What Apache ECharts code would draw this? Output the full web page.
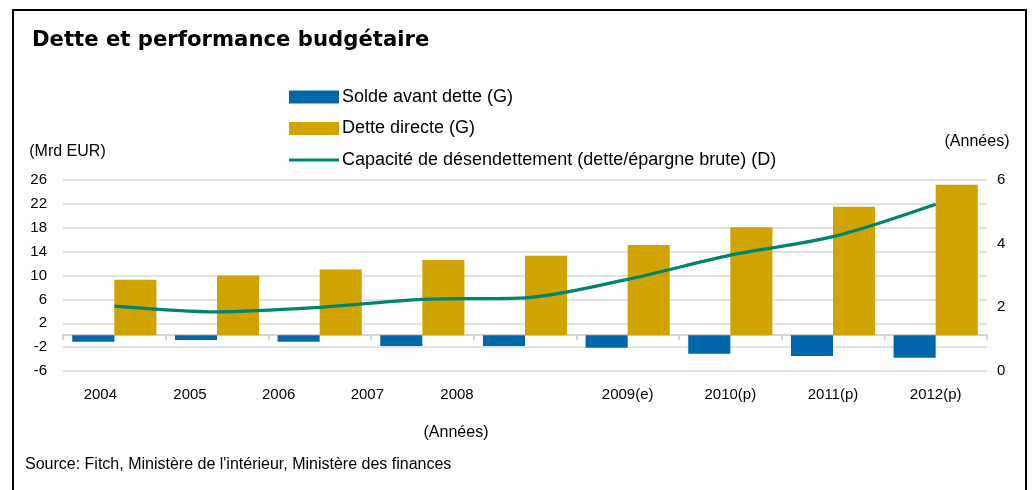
<!DOCTYPE html>
<html>
<head>
<meta charset="utf-8">
<script src="https://cdn.jsdelivr.net/npm/echarts@6/dist/echarts.min.js"></script>
<style>
    html, body { margin: 0; padding: 0; background: #fff; }
    #chart { width: 1032px; height: 490px; }
</style>
</head>
<body>
<div id="chart"></div>
<script>
// données
const years = ["2004", "2005", "2006", "2007", "2008", "2009(e)", "2010(p)", "2011(p)", "2012(p)"];
const soldeAvantDette = [-1.1, -0.8, -1.1, -1.8, -1.8, -2.1, -3.1, -3.5, -3.8];
const detteDirecte = [9.3, 10.0, 11.0, 12.6, 13.3, 15.1, 18.1, 21.5, 25.2];
const capacite = [2.04, 1.86, 2.0, 2.25, 2.3, 2.88, 3.64, 4.22, 5.24];
const leftTicks = { min: -6, max: 26, step: 4 };
const rightTicks = { min: 0, max: 6, step: 2 };

// décalage des libellés d'années (comme sur l'original)
const labelShift = [14, 27, 41, 55, 68, 0, 0, 0, 0];

const font = "'Liberation Sans', Arial, sans-serif";
const rich = {};
labelShift.forEach((s, i) => {
    rich["s" + i] = { fontFamily: font, fontSize: 15, color: "#000", padding: [0, 2 * s, 0, 0] };
});

let chart = echarts.init(document.getElementById("chart"));
chart.setOption({
    animation: false,
    textStyle: { fontFamily: font },
    color: ["#0067AB", "#CFA400", "#00836F"],
    title: {
        text: "Dette et performance budgétaire",
        left: 27,
        top: 25,
        textStyle: { fontFamily: "'DejaVu Sans', sans-serif", fontWeight: "bold", fontSize: 21.2, color: "#000" },
    },
    legend: {
        orient: "vertical",
        left: 289,
        top: 88,
        padding: 0,
        itemWidth: 50,
        itemHeight: 13,
        itemGap: 13.5,
        textStyle: { fontSize: 18, color: "#000", padding: [0, 0, 0, -2] },
        data: [
            { name: "Solde avant dette (G)", icon: "rect", itemStyle: { borderWidth: 0 } },
            { name: "Dette directe (G)", icon: "rect", itemStyle: { borderWidth: 0 } },
            { name: "Capacité de désendettement (dette/épargne brute) (D)", icon: "path://M0,0L50,0L50,3L0,3Z" },
        ],
    },
    grid: { left: 63, right: 45, top: 180, bottom: 119 },
    xAxis: [
        {
            type: "category",
            data: years,
            position: "bottom",
            axisLine: { onZero: true, lineStyle: { color: "#c8c8c8", width: 1.5 } },
            axisTick: { show: true, length: 5, lineStyle: { color: "#c8c8c8", width: 1.5 } },
            axisLabel: { show: false },
        },
        {
            type: "category",
            data: years,
            position: "bottom",
            axisLine: { show: false },
            axisTick: { show: false },
            axisLabel: {
                margin: 16,
                formatter: (v, i) => `{s${i}|${v}}`,
                rich: rich,
            },
            name: "(Années)",
            nameLocation: "middle",
            nameGap: 54,
            nameTextStyle: { fontSize: 16, color: "#000", padding: [0, 138, 0, 0] },
        },
    ],
    yAxis: [
        {
            type: "value",
            min: leftTicks.min,
            max: leftTicks.max,
            interval: leftTicks.step,
            axisLine: { show: false },
            axisTick: { show: false },
            axisLabel: { fontSize: 15, color: "#000", margin: 16 },
            splitLine: { lineStyle: { color: "#d9d9d9", width: 1.5 } },
            name: "(Mrd EUR)",
            nameLocation: "end",
            nameGap: 20,
            nameTextStyle: { fontSize: 16, color: "#000", align: "center", padding: [0, 0, 0, 9] },
        },
        {
            type: "value",
            min: rightTicks.min,
            max: rightTicks.max,
            interval: rightTicks.step,
            axisLine: { show: false },
            axisTick: { show: false },
            axisLabel: { fontSize: 15, color: "#000", margin: 10 },
            splitLine: { show: false },
            name: "(Années)",
            nameLocation: "end",
            nameGap: 30,
            nameTextStyle: { fontSize: 16, color: "#000", align: "center", padding: [0, 0, 0, -20] },
        },
    ],
    series: [
        {
            name: "Solde avant dette (G)",
            type: "bar",
            data: soldeAvantDette,
            barGap: "0%",
            barCategoryGap: "18%",
        },
        {
            name: "Dette directe (G)",
            type: "bar",
            data: detteDirecte,
        },
        {
            name: "Capacité de désendettement (dette/épargne brute) (D)",
            type: "line",
            yAxisIndex: 1,
            data: capacite,
            smooth: 0.3,
            symbol: "none",
            showSymbol: false,
            lineStyle: { width: 3.2 },
        },
    ],
    graphic: [
        {
            type: "rect",
            shape: { x: 13, y: 10, width: 1013, height: 520 },
            style: { fill: "none", stroke: "#000", lineWidth: 2 },
            silent: true,
        },
        {
            type: "text",
            left: 25,
            top: 457,
            style: {
                text: "Source: Fitch, Ministère de l'intérieur, Ministère des finances",
                font: "16px " + font,
                fill: "#000",
            },
        },
    ],
});
window.addEventListener("resize", () => chart.resize());
</script>
</body>
</html>
